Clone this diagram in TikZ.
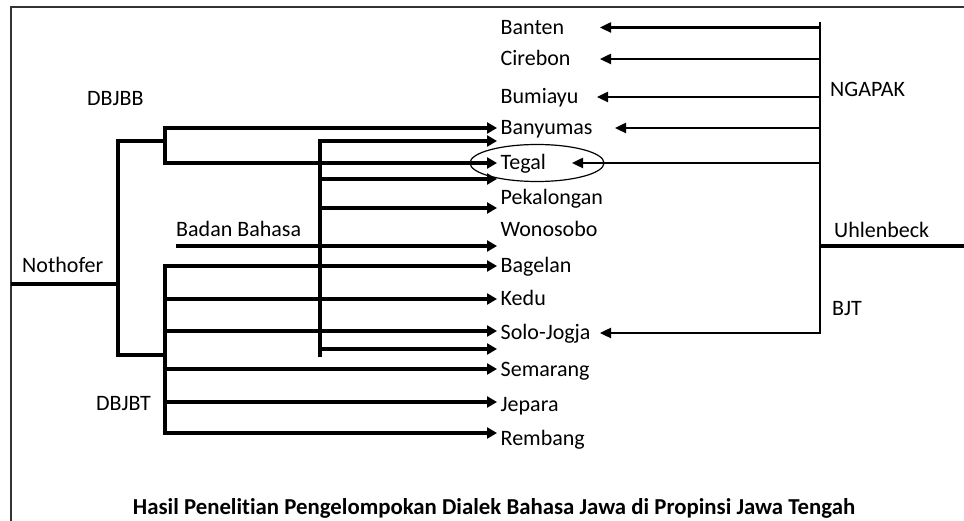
\documentclass[tikz,border=0pt]{standalone}
\usepackage{fontspec}
\setmainfont{Carlito}[Ligatures=NoCommon]
\usetikzlibrary{arrows.meta}
\begin{document}
\begin{tikzpicture}[x=1pt, y=-1pt,
    dialect/.style={anchor=west, inner xsep=3.5pt, inner ysep=0pt, text height=14pt, text depth=0pt, font=\fontsize{22}{26}\selectfont},
    source/.style={anchor=west, inner sep=0pt, text height=14pt, text depth=0pt, font=\fontsize{22}{26}\selectfont},
    tree/.style={line width=3.2pt},
    fwd/.style={line width=3.2pt, -{Triangle[length=10pt,width=11pt]}},
    back/.style={line width=2.4pt, -{Triangle[length=11pt,width=10pt]}}]
    \definecolor{frame-gray}{rgb}{0.2,0.2,0.2}
    \useasboundingbox (0,0) rectangle (964,521);
    \draw[frame-gray, line width=2pt] (11,521) -- (11,7) -- (964,7);
    \foreach \n/\t/\y in {banten/Banten/27.5, cirebon/Cirebon/59, bumiayu/Bumiayu/97,
        banyumas/Banyumas/128, tegal/Tegal/163, pekalongan/Pekalongan/198,
        wonosobo/Wonosobo/230, bagelan/Bagelan/266, kedu/Kedu/299,
        solo/Solo-Jogja/333, semarang/Semarang/369, jepara/Jepara/404, rembang/Rembang/438}
      \node[dialect] (\n) at (497,\y) {\t};
    \node[source] (dbjbb) at (87,98.5) {DBJBB};
    \node[source] (badan) at (176,230) {Badan Bahasa};
    \node[source] (nothofer) at (22,265.5) {Nothofer};
    \node[source] (dbjbt) at (96,403.5) {DBJBT};
    \node[source] (ngapak) at (830,90) {NGAPAK};
    \node[source] (uhlenbeck) at (834,230.5) {Uhlenbeck};
    \node[source] (bjt) at (832,308.5) {BJT};
    \draw[line width=1.2pt] (tegal.west) ++(40,0) ellipse [x radius=67, y radius=18.5];
    \coordinate (root) at (118,284);
    \coordinate (jbb) at (165,141);
    \coordinate (jbt) at (165,355);
    \coordinate (bb) at (320,357);
    \coordinate (ng) at (820,22);
    \coordinate (uh) at (820,246);
    \draw[tree] (root) -- ++(-107,0);
    \draw[tree] (jbb) -| (root) |- (jbt);
    \draw[fwd] (jbb) |- (banyumas.west);
    \draw[fwd] (jbb) |- (tegal.west);
    \foreach \n/\s in {bagelan/0, kedu/0, solo/2, semarang/0, jepara/2, rembang/5}
      \draw[fwd] (jbt) |- ([yshift=\s pt]\n.west);
    \foreach \n/\s in {banyumas/-13, tegal/-16, pekalongan/-10, solo/-16}
      \draw[fwd] (bb) |- ([yshift=\s pt]\n.west);
    \draw[fwd] (badan.west) ++(0,16) -- ([yshift=-16pt]wonosobo.west);
    \draw[back] (ng) -- (ng |- solo.west) -- ++(-220,0);
    \foreach \n/\l in {banten/220, cirebon/220, bumiayu/223, banyumas/205, tegal/248}
      \draw[back] (ng |- \n.west) -- ++(-\l,0);
    \draw[tree] (uh) -- ++(144,0);
    \node[inner sep=0pt, font=\fontsize{22.8}{26}\selectfont\bfseries] (title) at (494,508.5)
      {Hasil Penelitian Pengelompokan Dialek Bahasa Jawa di Propinsi Jawa Tengah};
  \end{tikzpicture}
\end{document}
